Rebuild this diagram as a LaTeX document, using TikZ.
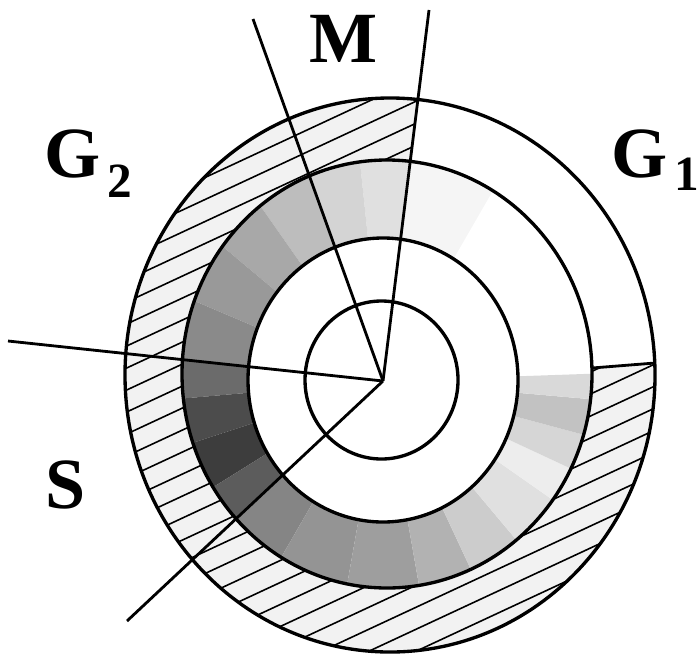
\documentclass[tikz,border=0pt]{standalone}
\usepackage{fontspec}
\setmainfont{Liberation Serif}
\usetikzlibrary{positioning, calc}

\begin{document}
\begin{tikzpicture}[x=0.01cm, y=0.01cm,
  ring/.style = {line width=0.95pt},
  ray/.style = {line width=0.8pt},
  hatch/.style = {line width=0.45pt},
  lbl/.style = {font=\bfseries\fontsize{20.5}{24}\selectfont, inner sep=0pt, anchor=base west},
  sublbl/.style = {font=\bfseries\fontsize{14}{16}\selectfont, inner sep=0pt, anchor=base west}]

\useasboundingbox (0,0) rectangle (698,657);

%--- Centres ---
\coordinate (cOut)  at (390,282);
\coordinate (cMid)  at (387,283);
\coordinate (cIn)   at (383,277);
\coordinate (cCore) at (381.5,277);
\coordinate (hub)   at (383,276);

%--- Ray ends ---
\coordinate (rayMl) at (253,638);
\coordinate (rayMr) at (429,647);
\coordinate (rayG)  at (8,316);
\coordinate (rayS)  at (127,36);
\coordinate (segIn)  at (592,289);
\coordinate (segOut) at (655,294);

%--- Outer ring: hatched part ---
\begin{scope}[even odd rule]
  \clip (cOut) ellipse[x radius=265, y radius=277]
        (cMid) ellipse[x radius=205, y radius=214];
  \clip (hub) -- ++(82.93:500) arc[start angle=82.93, end angle=363.7, radius=500] -- cycle;
  \fill[black!5] (0,0) rectangle (698,657);
  \foreach \c in {-342,-320,...,660}
    \draw[hatch] (0,\c) -- (700,\c+326);
\end{scope}

%--- Middle ring: grey tones ---
\begin{scope}[even odd rule]
  \clip (cMid) ellipse[x radius=205, y radius=214]
        (cIn) ellipse[x radius=135, y radius=142];
  \foreach \a/\b/\tone in {60/82.93/4, 82.93/96/12, 96/109.75/17,
      109.75/125/26, 125/140/34, 140/157/40, 157/173.9/46,
      173.9/185/58, 185/198/70, 198/212/76, 212/223.15/64,
      223.15/240/48, 240/260/42, 260/280/38, 280/295/30, 295/310/20, 310/325/12,
      325/335/7, 335/345/16, 345/355/24, 355/362/15}
    \fill[black!\tone] (hub) -- ++(\a:500) arc[start angle=\a, end angle=\b, radius=500] -- cycle;
\end{scope}

%--- Rings ---
\draw[ring] (cOut)  ellipse[x radius=265, y radius=277];
\draw[ring] (cMid)  ellipse[x radius=205, y radius=214];
\draw[ring] (cIn)   ellipse[x radius=135, y radius=142];
\draw[ring] (cCore) ellipse[x radius=76.5, y radius=79];

%--- Rays ---
\draw[ray] (hub) -- (rayMl);
\draw[ray] (hub) -- (rayMr);
\draw[ray] (hub) -- (rayG);
\draw[ray] (hub) -- (rayS);
\draw[ray] (segIn) -- (segOut);

%--- Labels ---
\node[lbl] (M) at (309,594) {M};
\node[lbl] (G2) at (44,480) {G};
\node[sublbl] (G2sub) at (107,460) {2};
\node[lbl] (G1) at (611,480) {G};
\node[sublbl] (G1sub) at (674,467) {1};
\node[lbl] (S) at (45,149) {S};

\end{tikzpicture}
\end{document}
